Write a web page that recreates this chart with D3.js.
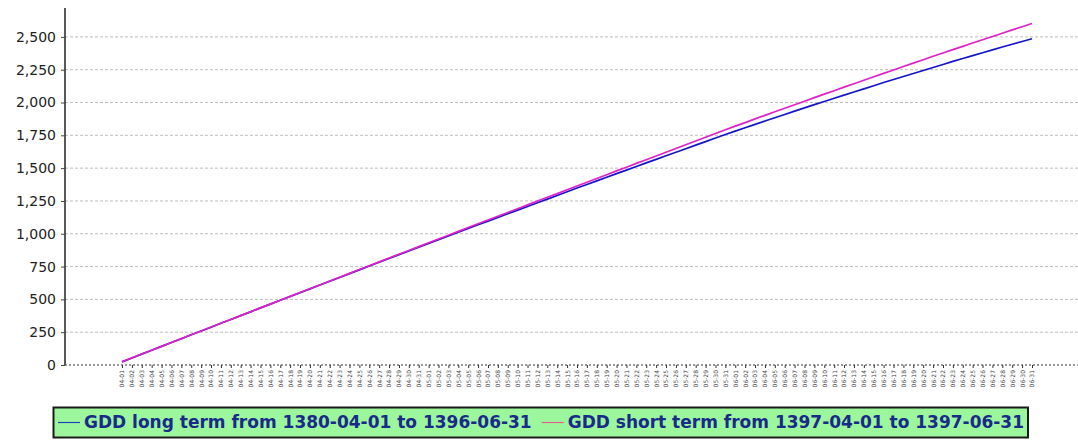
<!DOCTYPE html>
<html lang="en">
<head>
    <meta charset="UTF-8">
    <title>GDD</title>
    <script src="https://d3js.org/d3.v7.min.js"></script>
    <style>
        body { margin: 0; background: #fff; }
    </style>
</head>
<body>
    <script>
        // categories: day labels (month-day), three 31-day months
        var days = [
            '04-01','04-02','04-03','04-04','04-05','04-06','04-07','04-08','04-09','04-10',
            '04-11','04-12','04-13','04-14','04-15','04-16','04-17','04-18','04-19','04-20',
            '04-21','04-22','04-23','04-24','04-25','04-26','04-27','04-28','04-29','04-30','04-31',
            '05-01','05-02','05-03','05-04','05-05','05-06','05-07','05-08','05-09','05-10',
            '05-11','05-12','05-13','05-14','05-15','05-16','05-17','05-18','05-19','05-20',
            '05-21','05-22','05-23','05-24','05-25','05-26','05-27','05-28','05-29','05-30','05-31',
            '06-01','06-02','06-03','06-04','06-05','06-06','06-07','06-08','06-09','06-10',
            '06-11','06-12','06-13','06-14','06-15','06-16','06-17','06-18','06-19','06-20',
            '06-21','06-22','06-23','06-24','06-25','06-26','06-27','06-28','06-29','06-30','06-31'
        ];

        // GDD long term (cumulative)
        var longTerm = [
            24, 53, 83, 112, 142, 171, 200, 230, 259, 288,
            318, 347, 376, 405, 435, 464, 493, 522, 551, 580,
            609, 638, 667, 696, 725, 754, 783, 812, 841, 869, 898,
            926, 955, 983, 1012, 1040, 1068, 1096, 1124, 1152, 1180,
            1208, 1236, 1264, 1292, 1320, 1348, 1375, 1403, 1430, 1458,
            1485, 1512, 1540, 1567, 1594, 1621, 1648, 1675, 1702, 1729, 1756,
            1782, 1808, 1833, 1859, 1884, 1909, 1934, 1959, 1984, 2008,
            2032, 2056, 2080, 2104, 2128, 2152, 2175, 2198, 2221, 2244,
            2267, 2290, 2313, 2335, 2357, 2379, 2401, 2423, 2444, 2465, 2486
        ];

        // GDD short term (cumulative)
        var shortTerm = [
            25, 54, 84, 113, 142, 172, 201, 230, 259, 289,
            318, 347, 376, 406, 435, 464, 493, 523, 552, 581,
            610, 640, 669, 698, 727, 756, 786, 815, 844, 873, 902,
            931, 960, 989, 1018, 1047, 1076, 1105, 1133, 1162, 1191,
            1220, 1249, 1278, 1306, 1335, 1364, 1393, 1421, 1450, 1479,
            1507, 1536, 1564, 1593, 1621, 1650, 1678, 1707, 1735, 1764, 1792,
            1820, 1847, 1875, 1902, 1929, 1956, 1983, 2010, 2037, 2064,
            2090, 2117, 2143, 2170, 2196, 2222, 2248, 2274, 2300, 2326,
            2352, 2377, 2403, 2428, 2453, 2478, 2503, 2528, 2553, 2577, 2602
        ];

        var yTicks = [0, 250, 500, 750, 1000, 1250, 1500, 1750, 2000, 2250, 2500];
        var seriesNames = [
            'GDD long term from 1380-04-01 to 1396-06-31',
            'GDD short term from 1397-04-01 to 1397-06-31'
        ];
        var seriesColors = ['#1414cc', '#e020c8'];
        var legendColors = ['#2040c0', '#e06090'];

        var width = 1078;
        var height = 441;
        var plotLeft = 65, plotTop = 8, plotBottom = 365, plotRight = 1078;

        var svg = d3.select('body')
                    .append('svg')
                    .attr('width', width)
                    .attr('height', height)
                    .style('display', 'block');

        var x = d3.scalePoint()
                  .domain(days)
                  .range([122, 1032]);

        var y = d3.scaleLinear()
                  .domain([0, 2720])
                  .range([plotBottom, plotTop]);

        // horizontal grid lines
        svg.append('g')
           .selectAll('line')
           .data(yTicks.filter(function(d) { return d > 0; }))
           .enter()
           .append('line')
           .attr('x1', plotLeft)
           .attr('x2', plotRight)
           .attr('y1', function(d) { return y(d); })
           .attr('y2', function(d) { return y(d); })
           .attr('stroke', '#bdbdbd')
           .attr('stroke-width', 1)
           .attr('stroke-dasharray', '3,2');

        // y axis
        var yAxis = d3.axisLeft(y)
                      .tickValues(yTicks)
                      .tickSize(4)
                      .tickPadding(5)
                      .tickFormat(d3.format(','));

        var gy = svg.append('g')
                    .attr('transform', 'translate(' + plotLeft + ',0)')
                    .call(yAxis);
        gy.select('.domain')
          .attr('d', 'M0,' + plotTop + 'V' + plotBottom)
          .attr('stroke', '#222')
          .attr('stroke-width', 1.5);
        gy.selectAll('.tick line').attr('stroke', '#444');
        gy.selectAll('.tick text')
          .attr('fill', '#222')
          .style('font-family', '"DejaVu Sans", sans-serif')
          .style('font-size', '14px');

        // x axis (category labels, tiny and rotated)
        var xAxis = d3.axisBottom(x)
                      .tickSize(3)
                      .tickPadding(2);

        var gx = svg.append('g')
                    .attr('transform', 'translate(0,' + plotBottom + ')')
                    .call(xAxis);
        gx.select('.domain')
          .attr('d', 'M' + plotLeft + ',0H' + plotRight)
          .attr('stroke', '#333')
          .attr('stroke-dasharray', '2,2');
        gx.selectAll('.tick line').attr('stroke', '#333');
        gx.selectAll('.tick text')
          .attr('fill', '#444')
          .style('font-family', '"DejaVu Sans", sans-serif')
          .style('font-size', '6px')
          .attr('text-anchor', 'end')
          .attr('transform', 'rotate(-90)')
          .attr('x', -5)
          .attr('y', 0)
          .attr('dy', '0.32em');

        // lines
        var line = d3.line()
                     .x(function(d, i) { return x(days[i]); })
                     .y(function(d) { return y(d); });

        [longTerm, shortTerm].forEach(function(s, k) {
            svg.append('path')
               .datum(s)
               .attr('d', line)
               .attr('fill', 'none')
               .attr('stroke', seriesColors[k])
               .attr('stroke-width', 1.7);
        });

        // legend
        var legend = svg.append('g');
        var box = legend.append('rect')
              .attr('x', 53.5)
              .attr('y', 407.5)
              .attr('height', 30)
              .attr('fill', '#9cf79c')
              .attr('stroke', '#1a1a1a')
              .attr('stroke-width', 2);

        var lx = 58;
        seriesNames.forEach(function(name, k) {
            legend.append('line')
                  .attr('x1', lx)
                  .attr('x2', lx + 22)
                  .attr('y1', 422.5)
                  .attr('y2', 422.5)
                  .attr('stroke', legendColors[k])
                  .attr('stroke-width', 1.2);
            var t = legend.append('text')
                  .attr('x', lx + 26)
                  .attr('y', 428)
                  .attr('fill', '#1a2a8a')
                  .style('font-family', '"DejaVu Sans", sans-serif')
                  .style('font-weight', 'bold')
                  .style('font-size', '17px')
                  .text(name);
            lx += 26 + t.node().getComputedTextLength() + 10;
        });
        box.attr('width', lx - 6 - 53.5);
    </script>
</body>
</html>
